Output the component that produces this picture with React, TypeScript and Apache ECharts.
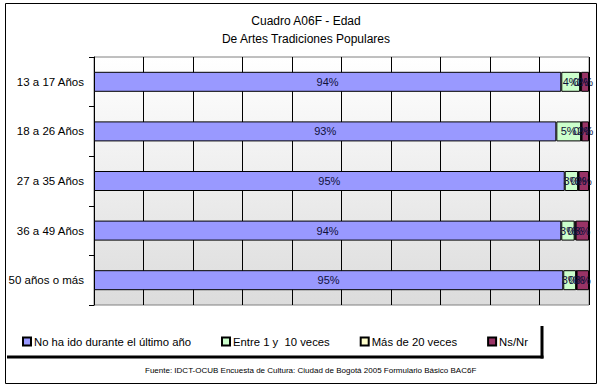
import React, { useEffect, useRef } from "react";
import * as echarts from "echarts";

const categories = ["13 a 17 Años", "18 a 26 Años", "27 a 35 Años", "36 a 49 Años", "50 años o más"];
const seriesNames = ["No ha ido durante el último año", "Entre 1 y  10 veces", "Más de 20 veces", "Ns/Nr"];
const noHaIdo = [94.4, 93.4, 95.1, 94.4, 94.8];
const entre1y10 = [3.8, 5.0, 2.7, 2.7, 2.6];
const masDe20 = [0.2, 0.1, 0.1, 0.2, 0.1];
const nsNr = [1.6, 1.5, 2.1, 2.7, 2.5];
const colors = ["#9999FF", "#CCFFCC", "#FFFFCC", "#993366"];
const titleLines = ["Cuadro A06F - Edad", "De Artes Tradiciones Populares"];
const footer = "Fuente: IDCT-OCUB Encuesta de Cultura: Ciudad de Bogotá 2005 Formulario Básico BAC6F";

export default function App() {
  const ref = useRef<HTMLDivElement>(null);
  useEffect(() => {
    if (!ref.current) return;
    const chart = echarts.init(ref.current, undefined, { renderer: "svg" });
    const font = "'Liberation Sans', Arial, sans-serif";
    const data = [noHaIdo, entre1y10, masDe20, nsNr];
    chart.setOption({
      animation: false,
      backgroundColor: "#fff",
      textStyle: { fontFamily: font },
      title: {
        text: titleLines.join("\n"),
        left: 301,
        textAlign: "center",
        top: 7,
        textStyle: { fontSize: 12, fontWeight: "normal", color: "#000", lineHeight: 18, fontFamily: font },
      },
      legend: {
        data: seriesNames,
        left: 17,
        top: 331,
        itemWidth: 8,
        itemHeight: 8,
        itemGap: 30,
        icon: "rect",
        textStyle: { fontSize: 11.3, color: "#000", fontFamily: font, padding: [0, 0, 0, -2] },
      },
      grid: {
        left: 94,
        right: 13,
        top: 57,
        bottom: 84,
        show: true,
        borderColor: "#808080",
        borderWidth: 1,
        backgroundColor: new echarts.graphic.LinearGradient(0, 0, 0, 1, [
          { offset: 0, color: "#ffffff" },
          { offset: 1, color: "#dcdcdc" },
        ]),
      },
      xAxis: {
        type: "value",
        min: 0,
        max: 100,
        interval: 10,
        axisLabel: { show: false },
        axisTick: { show: false },
        axisLine: { show: false },
        splitLine: { show: true, lineStyle: { color: "#000", width: 1 } },
      },
      yAxis: {
        type: "category",
        data: categories,
        inverse: true,
        axisLine: { show: true, lineStyle: { color: "#000", width: 1 } },
        axisTick: { show: true, length: 5, lineStyle: { color: "#000" } },
        axisLabel: { fontSize: 11.5, color: "#000", margin: 10, fontFamily: font },
      },
      series: seriesNames.map((name, i) => ({
        name,
        type: "bar",
        stack: "total",
        barWidth: 20,
        data: data[i],
        itemStyle: { color: colors[i], borderColor: "#000", borderWidth: 1 },
        label: {
          show: true,
          position: "inside",
          color: "#10103a",
          fontSize: 11,
          fontFamily: font,
          formatter: (p: any) => Math.round(p.value) + "%",
        },
      })),
      graphic: [
        { type: "rect", shape: { x: 5.5, y: 3.5, width: 591, height: 380 }, style: { fill: "none", stroke: "#000", lineWidth: 1 }, silent: true },
        { type: "line", shape: { x1: 7, y1: 357, x2: 543.5, y2: 357 }, style: { stroke: "#000", lineWidth: 3 }, silent: true },
        { type: "line", shape: { x1: 542, y1: 326, x2: 542, y2: 358.5 }, style: { stroke: "#000", lineWidth: 3 }, silent: true },
        {
          type: "text",
          left: 145,
          top: 366,
          style: { text: footer, fontSize: 8, fill: "#000", fontFamily: font },
          silent: true,
        },
      ],
    });
    return () => chart.dispose();
  }, []);
  return <div ref={ref} style={{ position: "fixed", left: 0, top: 0, width: 602, height: 389 }} />;
}
